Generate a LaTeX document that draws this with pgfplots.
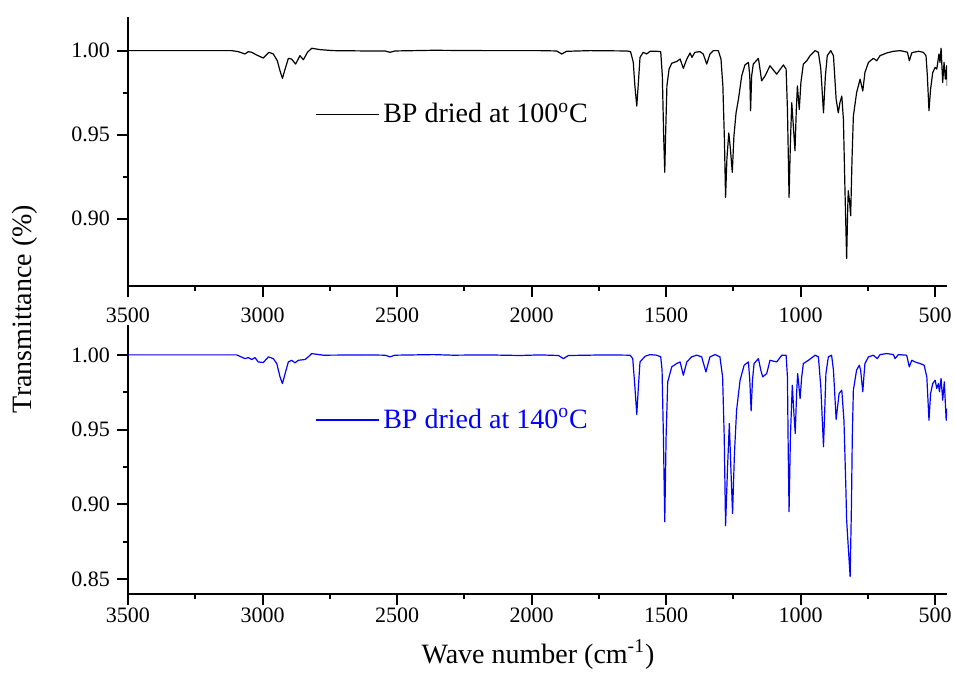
\documentclass[border=0pt]{standalone}
\usepackage{fontspec}
\setmainfont{Liberation Serif}
\usepackage{pgfplots}
\pgfplotsset{compat=1.18}
\usepackage{pgfplotstable}

% FTIR spectra (wave number, transmittance)
\pgfplotstableread{
w T
3500 1.0000
3300 1.0000
3200 1.0000
3115 1.0000
3090 0.9994
3065 0.9980
3053 0.9994
3040 0.9990
3022 0.9974
2997 0.9956
2976 0.9990
2960 0.9980
2945 0.9940
2935 0.9880
2926 0.9835
2918 0.9880
2904 0.9954
2892 0.9950
2877 0.9920
2861 0.9970
2848 0.9946
2833 0.9990
2817 1.0014
2786 1.0006
2737 1.0000
2613 0.9998
2545 0.9998
2526 0.9990
2508 0.9998
2365 1.0002
2167 1.0000
2043 1.0000
1969 1.0000
1907 0.9998
1888 0.9980
1870 0.9996
1783 1.0000
1646 0.9998
1632 0.9994
1622 0.9930
1616 0.9790
1609 0.9670
1603 0.9810
1597 0.9960
1585 0.9990
1572 0.9980
1560 0.9996
1535 0.9996
1520 0.9994
1514 0.9850
1509 0.9490
1505 0.9276
1502 0.9490
1497 0.9790
1489 0.9890
1479 0.9925
1461 0.9935
1448 0.9950
1436 0.9895
1423 0.9950
1411 0.9986
1404 0.9960
1393 0.9990
1374 0.9994
1362 0.9980
1349 0.9920
1337 0.9980
1324 1.0000
1306 1.0000
1296 0.9950
1289 0.9790
1283 0.9454
1279 0.9127
1274 0.9357
1267 0.9510
1261 0.9415
1254 0.9276
1248 0.9490
1240 0.9630
1231 0.9712
1219 0.9850
1207 0.9915
1194 0.9930
1189 0.9850
1186 0.9643
1182 0.9850
1176 0.9920
1157 0.9954
1151 0.9890
1145 0.9820
1132 0.9850
1114 0.9910
1089 0.9860
1064 0.9915
1054 0.9890
1049 0.9650
1043 0.9127
1038 0.9454
1033 0.9690
1027 0.9550
1021 0.9405
1016 0.9650
1012 0.9790
1005 0.9650
999 0.9810
990 0.9920
977 0.9940
965 0.9970
946 1.0000
934 0.9990
925 0.9890
915 0.9630
908 0.9850
901 0.9970
888 1.0000
878 0.9970
868 0.9710
860 0.9630
854 0.9690
847 0.9730
841 0.9590
835 0.9157
829 0.8764
825 0.9060
823 0.9167
818 0.9100
814 0.9018
809 0.9355
804 0.9610
792 0.9750
779 0.9830
769 0.9760
761 0.9870
748 0.9930
730 0.9954
717 0.9940
705 0.9970
680 0.9986
655 0.9996
630 1.0000
612 0.9994
603 0.9990
596 0.9940
587 0.9986
581 0.9990
562 0.9996
544 0.9990
534 0.9970
529 0.9850
523 0.9643
517 0.9770
509 0.9870
500 0.9900
494 0.9890
486 0.9980
482 0.9930
478 1.0014
472 0.9810
467 0.9930
462 0.9830
457 0.9910
455 0.9790
}\dryA

\pgfplotstableread{
w T
3500 1.0000
3200 1.0000
3096 1.0000
3065 0.9975
3053 0.9982
3040 0.9969
3028 0.9982
3016 0.9953
2997 0.9949
2978 0.9987
2960 0.9975
2947 0.9942
2935 0.9853
2926 0.9808
2916 0.9875
2904 0.9953
2892 0.9964
2879 0.9947
2867 0.9964
2842 0.9969
2830 0.9987
2817 1.0009
2799 1.0004
2774 0.9998
2613 1.0000
2545 0.9998
2526 0.9987
2508 0.9998
2365 1.0002
2291 0.9998
2167 1.0000
2043 0.9996
1969 1.0000
1900 0.9996
1882 0.9975
1863 0.9996
1721 1.0000
1634 0.9998
1624 0.9975
1616 0.9786
1609 0.9601
1603 0.9786
1597 0.9953
1578 0.9991
1560 1.0002
1535 0.9998
1520 0.9987
1515 0.9898
1510 0.9452
1505 0.8884
1500 0.9452
1494 0.9820
1479 0.9920
1461 0.9942
1448 0.9953
1436 0.9864
1423 0.9953
1405 0.9987
1386 0.9998
1368 0.9987
1352 0.9886
1337 0.9987
1318 1.0002
1300 0.9987
1290 0.9853
1284 0.9452
1279 0.8857
1272 0.9229
1265 0.9541
1259 0.9229
1253 0.8939
1246 0.9340
1238 0.9630
1225 0.9831
1210 0.9931
1194 0.9953
1189 0.9831
1184 0.9626
1179 0.9831
1173 0.9942
1157 0.9975
1148 0.9898
1141 0.9853
1126 0.9875
1114 0.9964
1089 0.9953
1070 0.9998
1054 0.9998
1049 0.9853
1046 0.9340
1043 0.8951
1038 0.9452
1031 0.9797
1025 0.9608
1020 0.9474
1015 0.9742
1011 0.9875
1002 0.9708
996 0.9853
990 0.9942
971 0.9964
946 0.9998
934 0.9987
925 0.9786
915 0.9385
910 0.9652
906 0.9875
897 0.9987
885 0.9998
878 0.9898
868 0.9568
857 0.9742
847 0.9764
839 0.9563
832 0.9118
829 0.8895
823 0.8717
816 0.8516
811 0.9006
808 0.9452
804 0.9764
792 0.9898
782 0.9931
777 0.9898
769 0.9753
764 0.9875
761 0.9942
748 0.9987
730 0.9998
715 0.9975
705 1.0002
680 1.0009
655 1.0002
649 0.9975
637 1.0002
606 0.9998
596 0.9920
587 0.9964
575 0.9953
556 0.9942
541 0.9931
531 0.9853
523 0.9563
517 0.9742
509 0.9808
500 0.9831
494 0.9775
488 0.9808
484 0.9753
478 0.9842
472 0.9697
466 0.9820
459 0.9563
457 0.9641
}\dryB

\pgfplotsset{
  ftir/.style={
    scale only axis,
    width=409.5pt, height=134.5pt,
    x dir=reverse, xmin=456, xmax=3500,
    ymax=1.02,
    axis x line*=bottom, axis y line*=left,
    axis line style={line width=1.1pt},
    tick style={line width=1pt, black},
    tick align=outside,
    major tick length=5.5pt, minor tick length=2.5pt,
    xtick={500,1000,...,3500}, minor x tick num=1,
    minor y tick num=1,
    scaled ticks=false,
    xticklabel style={/pgf/number format/1000 sep={}},
    yticklabel style={/pgf/number format/.cd, fixed, fixed zerofill, precision=2},
    /pgf/number format/assume math mode=true,
    tick label style={font=\fontsize{11}{13}\selectfont},
    legend style={draw=none, fill=none, inner sep=0pt, anchor=west,
      font=\fontsize{14}{16}\selectfont},
    legend cell align=left,
    legend image code/.code={\draw[#1, line width=0.6pt] (0pt,0pt) -- (31.5pt,0pt);},
  },
  spec/.style={line width=0.6pt, line join=round},
}

\begin{document}
\begin{tikzpicture}
\useasboundingbox (0,0) rectangle (477pt,-337.5pt);

\begin{axis}[ftir,
  at={(64pt,-143pt)}, anchor=south west,
  ymin=0.86, ytick={0.90,0.95,1.00},
  xticklabel style={yshift=-1.8pt},
  legend style={at={(0.228,0.639)}},
  ]
  \addplot[spec, black] table[x=w, y=T] {\dryA};
  \addlegendentry{BP dried at 100\textsuperscript{o}C}
\end{axis}

\begin{axis}[ftir,
  at={(64pt,-297pt)}, anchor=south west,
  ymin=0.84, ytick={0.85,0.90,0.95,1.00},
  xticklabel style={yshift=2.3pt},
  legend style={at={(0.228,0.647)}, text=blue},
  ]
  \addplot[spec, blue] table[x=w, y=T] {\dryB};
  \addlegendentry{BP dried at 140\textsuperscript{o}C}
\end{axis}

\node[rotate=90, font=\fontsize{14}{16}\selectfont] at (12.5pt,-154.5pt) {Transmittance (\%)};
\node[anchor=base, font=\fontsize{14}{16}\selectfont] at (269pt,-331.5pt) {Wave number (cm\textsuperscript{-1})};
\end{tikzpicture}
\end{document}
